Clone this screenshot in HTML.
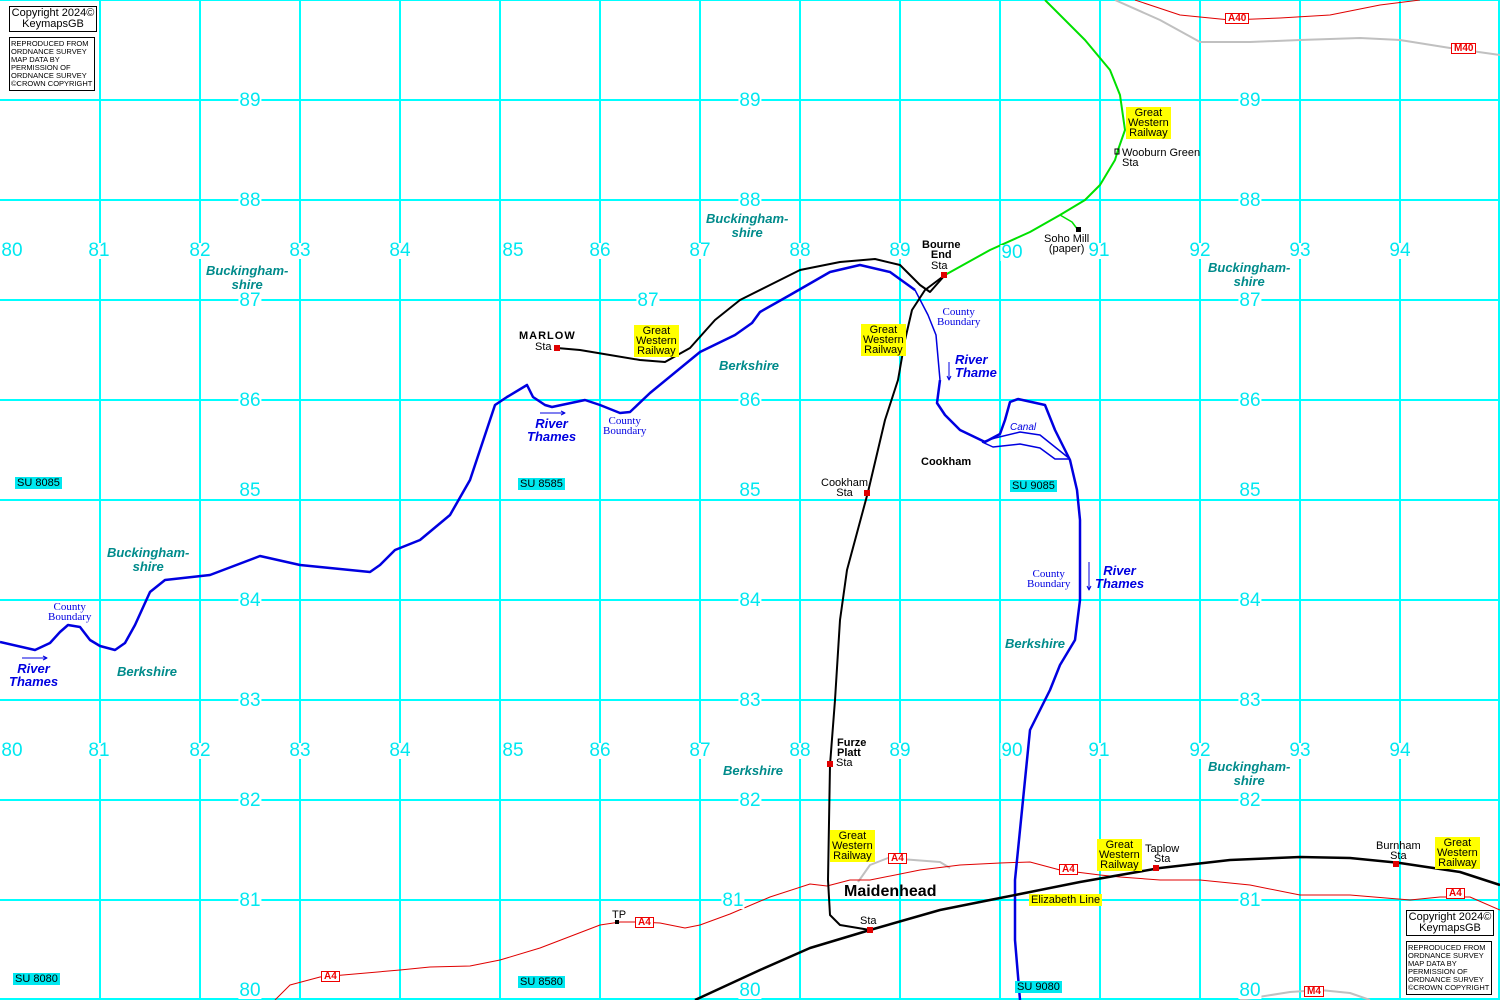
<!DOCTYPE html>
<html><head><meta charset="utf-8"><style>
body{margin:0;width:1500px;height:1000px;overflow:hidden;background:#fff;position:relative;font-family:"Liberation Sans",sans-serif}
svg{position:absolute;left:0;top:0}
.n{position:absolute;color:#00e8f0;background:#fff;font-size:19px;line-height:16px;padding:0 1px;transform:translate(-50%,-50%)}
.y{position:absolute;background:#ffff00;font-size:11px;line-height:10px;text-align:center;padding:1px 2px;color:#000}
.su{position:absolute;background:#00e8f0;font-size:11px;line-height:12px;padding:0 2px;color:#000}
.t{position:absolute;font-size:11px;line-height:10px;text-align:center;color:#000}
.b{font-weight:bold}
.bk{position:absolute;color:#008b8b;font-weight:bold;font-style:italic;font-size:13px;line-height:14px;text-align:center}
.rv{position:absolute;color:#0000e0;font-weight:bold;font-style:italic;font-size:13px;line-height:13px;text-align:center}
.cb{position:absolute;color:#0000e0;font-family:"Liberation Serif",serif;font-size:11px;line-height:10px;text-align:center}
.rd{position:absolute;border:1px solid #e00;background:#fff;color:#e00;font-weight:bold;font-size:10px;line-height:9px;padding:0 2px}
.cp{position:absolute;border:1px solid #000;background:#fff;font-size:11px;line-height:11px;text-align:center;padding:1px 0;white-space:nowrap}
.cp2{position:absolute;border:1px solid #000;background:#fff;font-size:7.5px;line-height:8px;padding:2px 1px;width:82px;white-space:nowrap;overflow:hidden}
</style></head><body>
<svg width="1500" height="1000" viewBox="0 0 1500 1000">
<g stroke="#00ffff" stroke-width="2">
<line x1="100" y1="0" x2="100" y2="1000"/><line x1="200" y1="0" x2="200" y2="1000"/><line x1="300" y1="0" x2="300" y2="1000"/><line x1="400" y1="0" x2="400" y2="1000"/><line x1="500" y1="0" x2="500" y2="1000"/><line x1="600" y1="0" x2="600" y2="1000"/><line x1="700" y1="0" x2="700" y2="1000"/><line x1="800" y1="0" x2="800" y2="1000"/><line x1="900" y1="0" x2="900" y2="1000"/><line x1="1000" y1="0" x2="1000" y2="1000"/><line x1="1100" y1="0" x2="1100" y2="1000"/><line x1="1200" y1="0" x2="1200" y2="1000"/><line x1="1300" y1="0" x2="1300" y2="1000"/><line x1="1400" y1="0" x2="1400" y2="1000"/><line x1="1499" y1="0" x2="1499" y2="1000"/>
<line x1="0" y1="0" x2="1500" y2="0"/><line x1="0" y1="100" x2="1500" y2="100"/><line x1="0" y1="200" x2="1500" y2="200"/><line x1="0" y1="300" x2="1500" y2="300"/><line x1="0" y1="400" x2="1500" y2="400"/><line x1="0" y1="500" x2="1500" y2="500"/><line x1="0" y1="600" x2="1500" y2="600"/><line x1="0" y1="700" x2="1500" y2="700"/><line x1="0" y1="800" x2="1500" y2="800"/><line x1="0" y1="900" x2="1500" y2="900"/><line x1="0" y1="999" x2="1500" y2="999"/>
</g>
<g fill="none" stroke-linejoin="round">
<polyline stroke="#c0c0c0" stroke-width="2" points="1115,0 1160,20 1200,42 1250,42 1300,40 1360,38 1400,40 1450,48 1500,55"/>
<polyline stroke="#c0c0c0" stroke-width="2" points="1240,1000 1290,992 1320,990 1350,993 1370,1000"/>
<polyline stroke="#e00000" stroke-width="1" points="1135,0 1180,15 1230,20 1280,18 1330,15 1380,5 1420,0"/>
<polyline stroke="#c0c0c0" stroke-width="2" points="858,882 870,865 888,858 940,862 950,868"/>
<polyline stroke="#e00000" stroke-width="1" points="275,1000 290,985 320,977 400,970 430,967 470,966 500,960 540,948 600,925 620,922 640,922 660,923 685,928 700,925 730,914 770,897 810,884 827,886 850,880 870,880 920,870 960,865 1000,863 1030,862 1060,870 1100,875 1120,877 1160,880 1200,880 1250,885 1300,895 1350,895 1410,900 1440,897 1470,897 1500,910"/>
<polyline stroke="#0000e0" stroke-width="2.5" points="0,642 35,650 50,643 60,632 68,625 80,627 90,640 100,646 115,650 125,643 135,625 150,592 165,580 210,575 260,556 300,565 370,572 380,565 395,550 420,540 450,515 470,480 495,405 507,397 527,385 533,397 545,405 552,407 585,400 600,405 620,413 630,412 650,393 700,352 735,335 752,323 760,312 790,295 830,272 860,265 890,272 915,290"/>
<polyline stroke="#0000e0" stroke-width="1.5" points="915,290 928,315 936,335 940,380"/>
<polyline stroke="#0000e0" stroke-width="2.5" points="940,380 937,403 945,415 960,430 985,442 1000,434 1005,420 1010,402 1018,399 1045,405 1055,430 1070,460 1077,490 1080,520 1080,600 1075,640 1060,665 1050,690 1030,730 1025,780 1020,830 1015,880 1015,940 1020,1000"/>
<polyline stroke="#0000e0" stroke-width="1.5" points="982,442 995,438 1020,432 1040,435 1070,459"/>
<polyline stroke="#0000e0" stroke-width="1.5" points="982,442 993,447 1020,444 1040,448 1055,459 1070,459"/>
<polyline stroke="#000" stroke-width="2" points="557,348 580,350 640,360 665,362 690,348 715,320 740,300 770,285 800,270 840,262 875,259 900,265 920,285 930,292 945,275"/>
<polyline stroke="#000" stroke-width="2" points="945,275 925,290 912,310 905,340 898,380 885,420 868,492 847,570 840,620 835,700 830,765 828,880 830,915 840,925 870,930"/>
<polyline stroke="#000" stroke-width="2.5" points="695,1000 760,970 810,948 870,930 940,910 1000,898 1080,882 1160,868 1230,860 1300,857 1350,858 1400,863 1460,872 1500,885"/>
<polyline stroke="#00e000" stroke-width="2" points="945,275 990,250 1030,232 1060,215 1085,200 1100,185 1115,160 1118,150 1125,130 1120,95 1110,70 1085,40 1045,0"/>
<polyline stroke="#00e000" stroke-width="1.5" points="1060,215 1072,222 1078,230"/>
<line x1="540" y1="413" x2="565" y2="413" stroke="#0000e0" stroke-width="1"/><polyline points="561,411 565,413 561,415" stroke="#0000e0"/>
<line x1="22" y1="658" x2="47" y2="658" stroke="#0000e0" stroke-width="1"/><polyline points="43,656 47,658 43,660" stroke="#0000e0"/>
<line x1="949" y1="362" x2="949" y2="380" stroke="#0000e0" stroke-width="1"/><polyline points="947,376 949,380 951,376" stroke="#0000e0"/>
<line x1="1089" y1="562" x2="1089" y2="590" stroke="#0000e0" stroke-width="1"/><polyline points="1087,586 1089,590 1091,586" stroke="#0000e0"/>
</g>
<g fill="#e00000"><rect x="554" y="345" width="6" height="6"/><rect x="941" y="272" width="6" height="6"/><rect x="864" y="490" width="6" height="6"/><rect x="827" y="761" width="6" height="6"/><rect x="867" y="927" width="6" height="6"/><rect x="1153" y="865" width="6" height="6"/><rect x="1393" y="861" width="6" height="6"/></g>
<rect x="1076" y="227" width="5" height="5" fill="#000"/><rect x="615" y="920" width="4" height="4" fill="#000"/>
<rect x="1115" y="149" width="4" height="5" fill="none" stroke="#000" stroke-width="1"/>
</svg>
<div class="n" style="left:250px;top:101px">89</div><div class="n" style="left:750px;top:101px">89</div><div class="n" style="left:1250px;top:101px">89</div>
<div class="n" style="left:250px;top:201px">88</div><div class="n" style="left:750px;top:201px">88</div><div class="n" style="left:1250px;top:201px">88</div>
<div class="n" style="left:250px;top:301px">87</div><div class="n" style="left:648px;top:301px">87</div><div class="n" style="left:1250px;top:301px">87</div>
<div class="n" style="left:250px;top:401px">86</div><div class="n" style="left:750px;top:401px">86</div><div class="n" style="left:1250px;top:401px">86</div>
<div class="n" style="left:250px;top:491px">85</div><div class="n" style="left:750px;top:491px">85</div><div class="n" style="left:1250px;top:491px">85</div>
<div class="n" style="left:250px;top:601px">84</div><div class="n" style="left:750px;top:601px">84</div><div class="n" style="left:1250px;top:601px">84</div>
<div class="n" style="left:250px;top:701px">83</div><div class="n" style="left:750px;top:701px">83</div><div class="n" style="left:1250px;top:701px">83</div>
<div class="n" style="left:250px;top:801px">82</div><div class="n" style="left:750px;top:801px">82</div><div class="n" style="left:1250px;top:801px">82</div>
<div class="n" style="left:250px;top:901px">81</div><div class="n" style="left:733px;top:901px">81</div><div class="n" style="left:1250px;top:901px">81</div>
<div class="n" style="left:250px;top:991px">80</div><div class="n" style="left:750px;top:991px">80</div><div class="n" style="left:1250px;top:991px">80</div>
<div class="n" style="left:12px;top:251px">80</div><div class="n" style="left:99px;top:251px">81</div><div class="n" style="left:200px;top:251px">82</div><div class="n" style="left:300px;top:251px">83</div><div class="n" style="left:400px;top:251px">84</div><div class="n" style="left:513px;top:251px">85</div><div class="n" style="left:600px;top:251px">86</div><div class="n" style="left:700px;top:251px">87</div><div class="n" style="left:800px;top:251px">88</div><div class="n" style="left:900px;top:251px">89</div><div class="n" style="left:1012px;top:253px">90</div><div class="n" style="left:1099px;top:251px">91</div><div class="n" style="left:1200px;top:251px">92</div><div class="n" style="left:1300px;top:251px">93</div><div class="n" style="left:1400px;top:251px">94</div>
<div class="n" style="left:12px;top:751px">80</div><div class="n" style="left:99px;top:751px">81</div><div class="n" style="left:200px;top:751px">82</div><div class="n" style="left:300px;top:751px">83</div><div class="n" style="left:400px;top:751px">84</div><div class="n" style="left:513px;top:751px">85</div><div class="n" style="left:600px;top:751px">86</div><div class="n" style="left:700px;top:751px">87</div><div class="n" style="left:800px;top:751px">88</div><div class="n" style="left:900px;top:751px">89</div><div class="n" style="left:1012px;top:751px">90</div><div class="n" style="left:1099px;top:751px">91</div><div class="n" style="left:1200px;top:751px">92</div><div class="n" style="left:1300px;top:751px">93</div><div class="n" style="left:1400px;top:751px">94</div>

<div class="su" style="left:15px;top:477px">SU 8085</div><div class="su" style="left:518px;top:478px">SU 8585</div><div class="su" style="left:1010px;top:480px">SU 9085</div>
<div class="su" style="left:13px;top:973px">SU 8080</div><div class="su" style="left:518px;top:976px">SU 8580</div><div class="su" style="left:1015px;top:981px">SU 9080</div>

<div class="y" style="left:634px;top:325px">Great<br>Western<br>Railway</div>
<div class="y" style="left:861px;top:324px">Great<br>Western<br>Railway</div>
<div class="y" style="left:1126px;top:107px">Great<br>Western<br>Railway</div>
<div class="y" style="left:830px;top:830px">Great<br>Western<br>Railway</div>
<div class="y" style="left:1097px;top:839px">Great<br>Western<br>Railway</div>
<div class="y" style="left:1435px;top:837px">Great<br>Western<br>Railway</div>
<div class="y" style="left:1029px;top:894px;font-size:11px">Elizabeth Line</div>

<div class="t b" style="left:519px;top:331px;letter-spacing:1px">MARLOW</div><div class="t" style="left:535px;top:342px">Sta</div>
<div class="t b" style="left:922px;top:240px;line-height:10px">Bourne<br>End</div><div class="t" style="left:931px;top:261px">Sta</div>
<div class="t" style="left:1044px;top:234px">Soho Mill<br>(paper)</div>
<div class="t" style="left:1122px;top:148px;text-align:left">Wooburn Green<br>Sta</div>
<div class="t" style="left:821px;top:478px">Cookham<br>Sta</div>
<div class="t b" style="left:921px;top:457px">Cookham</div>
<div class="t b" style="left:837px;top:738px;text-align:left">Furze<br>Platt</div><div class="t" style="left:836px;top:758px">Sta</div>
<div class="t b" style="left:844px;top:884px;font-size:16px;line-height:16px">Maidenhead</div>
<div class="t" style="left:860px;top:916px">Sta</div>
<div class="t" style="left:1145px;top:844px">Taplow<br>Sta</div>
<div class="t" style="left:1376px;top:841px">Burnham<br>Sta</div>
<div class="t" style="left:612px;top:910px">TP</div>

<div class="bk" style="left:206px;top:264px">Buckingham-<br>shire</div>
<div class="bk" style="left:706px;top:212px">Buckingham-<br>shire</div>
<div class="bk" style="left:1208px;top:261px">Buckingham-<br>shire</div>
<div class="bk" style="left:107px;top:546px">Buckingham-<br>shire</div>
<div class="bk" style="left:1208px;top:760px">Buckingham-<br>shire</div>
<div class="bk" style="left:719px;top:359px">Berkshire</div>
<div class="bk" style="left:117px;top:665px">Berkshire</div>
<div class="bk" style="left:1005px;top:637px">Berkshire</div>
<div class="bk" style="left:723px;top:764px">Berkshire</div>

<div class="rv" style="left:527px;top:417px">River<br>Thames</div>
<div class="rv" style="left:9px;top:662px">River<br>Thames</div>
<div class="rv" style="left:955px;top:353px;text-align:left">River<br>Thame</div>
<div class="rv" style="left:1095px;top:564px">River<br>Thames</div>
<div class="rv" style="left:1010px;top:421px;font-weight:normal;font-size:10px">Canal</div>

<div class="cb" style="left:603px;top:416px">County<br>Boundary</div>
<div class="cb" style="left:48px;top:602px">County<br>Boundary</div>
<div class="cb" style="left:937px;top:307px">County<br>Boundary</div>
<div class="cb" style="left:1027px;top:569px">County<br>Boundary</div>

<div class="rd" style="left:1225px;top:13px">A40</div>
<div class="rd" style="left:1451px;top:43px">M40</div>
<div class="rd" style="left:888px;top:853px">A4</div>
<div class="rd" style="left:1059px;top:864px">A4</div>
<div class="rd" style="left:1446px;top:888px">A4</div>
<div class="rd" style="left:635px;top:917px">A4</div>
<div class="rd" style="left:321px;top:971px">A4</div>
<div class="rd" style="left:1304px;top:986px">M4</div>

<div class="cp" style="left:9px;top:6px;width:86px">Copyright 2024©<br>KeymapsGB</div>
<div class="cp2" style="left:9px;top:37px">REPRODUCED FROM<br>ORDNANCE SURVEY<br>MAP DATA BY<br>PERMISSION OF<br>ORDNANCE SURVEY<br>©CROWN COPYRIGHT</div>
<div class="cp" style="left:1406px;top:910px;width:86px">Copyright 2024©<br>KeymapsGB</div>
<div class="cp2" style="left:1406px;top:941px">REPRODUCED FROM<br>ORDNANCE SURVEY<br>MAP DATA BY<br>PERMISSION OF<br>ORDNANCE SURVEY<br>©CROWN COPYRIGHT</div>
</body></html>
